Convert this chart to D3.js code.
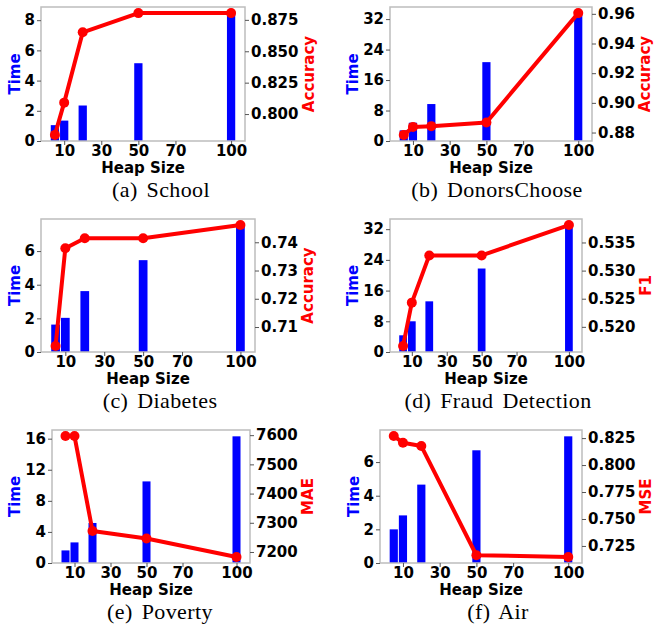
<!DOCTYPE html>
<html>
<head>
<meta charset="utf-8">
<script src="https://cdn.jsdelivr.net/npm/d3@7"></script>
<style>
	body { margin: 0; background: #fff; }
	svg { display: block; }
	.tick text { font-family: 'DejaVu Sans', sans-serif; font-weight: bold; font-size: 15px; fill: #000; }
	.domain { display: none; }
	.tick line { stroke: #555; }
</style>
</head>
<body>
<div id="chart"></div>
<script>
	// data
	var heapSizes = [5, 10, 20, 50, 100];
	var heapTicks = [10, 30, 50, 70, 100];

	var timeSchool = [1.05, 1.35, 2.35, 5.15, 8.45];
	var accSchool = [0.7834, 0.8091, 0.8651, 0.8804, 0.8804];
	var timeDonors = [2.8, 4.8, 9.7, 20.7, 33.5];
	var accDonors = [0.8784, 0.8838, 0.8843, 0.8868, 0.9605];
	var timeDiabetes = [1.63, 2.03, 3.62, 5.46, 7.53];
	var accDiabetes = [0.7033, 0.7379, 0.7414, 0.7414, 0.7461];
	var timeFraud = [4.35, 8.0, 13.2, 21.75, 33.0];
	var f1Fraud = [0.5166, 0.5243, 0.5327, 0.5327, 0.5381];
	var timePoverty = [1.62, 2.65, 5.15, 10.5, 16.3];
	var maePoverty = [7597, 7597, 7272, 7246, 7183];
	var timeAir = [2.0, 2.83, 4.66, 6.7, 7.53];
	var mseAir = [0.8269, 0.8207, 0.8176, 0.7164, 0.7148];

	var captions = ['(a) School', '(b) DonorsChoose', '(c) Diabetes', '(d) Fraud Detection', '(e) Poverty', '(f) Air'];
	var metricNames = ['Accuracy', 'Accuracy', 'Accuracy', 'F1', 'MAE', 'MSE'];
	var timeTicks = [[0, 2, 4, 6, 8], [0, 8, 16, 24, 32], [0, 2, 4, 6], [0, 8, 16, 24, 32], [0, 4, 8, 12, 16], [0, 2, 4, 6]];
	var metricTicks = [
		[0.800, 0.825, 0.850, 0.875],
		[0.88, 0.90, 0.92, 0.94, 0.96],
		[0.71, 0.72, 0.73, 0.74],
		[0.520, 0.525, 0.530, 0.535],
		[7200, 7300, 7400, 7500, 7600],
		[0.725, 0.750, 0.775, 0.800, 0.825]
	];
	var metricFormats = ['.3f', '.2f', '.2f', '.3f', 'd', '.3f'];

	var times = [timeSchool, timeDonors, timeDiabetes, timeFraud, timePoverty, timeAir];
	var metrics = [accSchool, accDonors, accDiabetes, f1Fraud, maePoverty, mseAir];

	// panel frames (plot area) in page pixels
	var frames = [
		{ x1: 41, x2: 245, y1: 7, y2: 141, cx: 161 },
		{ x1: 390, x2: 592, y1: 7, y2: 141, cx: 497 },
		{ x1: 41, x2: 255, y1: 219, y2: 352, cx: 160 },
		{ x1: 390, x2: 582, y1: 219, y2: 352, cx: 498 },
		{ x1: 52, x2: 250, y1: 430, y2: 563, cx: 160 },
		{ x1: 380, x2: 582, y1: 430, y2: 563, cx: 498 }
	];

	var barWidth = 5;
	var blue = '#0000ff';
	var red = '#ff0000';
	var frameColor = '#bdbdbd';
	var labelSize = 15;

	var svg = d3.select('#chart').append('svg')
		.attr('width', 658).attr('height', 625);

	frames.forEach(function (f, i) {
		var g = svg.append('g');
		var time = times[i];
		var metric = metrics[i];

		var x = d3.scaleLinear()
			.domain([heapSizes[0] - barWidth / 2 - 5, heapSizes[4] + barWidth / 2 + 5])
			.range([f.x1, f.x2]);
		var yTime = d3.scaleLinear()
			.domain([0, d3.max(time) * 1.05])
			.range([f.y2, f.y1]);
		var ext = d3.extent(metric);
		var pad = (ext[1] - ext[0]) * 0.05;
		var yMetric = d3.scaleLinear()
			.domain([ext[0] - pad, ext[1] + pad])
			.range([f.y2, f.y1]);

		// bars
		g.selectAll('.bar')
			.data(heapSizes)
			.enter().append('rect')
			.attr('x', (d) => x(d - barWidth / 2) + 0.5)
			.attr('width', (d) => x(d + barWidth / 2) - x(d - barWidth / 2) - 1)
			.attr('y', (d, j) => yTime(time[j]))
			.attr('height', (d, j) => yTime(0) - yTime(time[j]))
			.attr('fill', blue);

		// line + markers
		var line = d3.line()
			.x((d) => x(d))
			.y((d, j) => yMetric(metric[j]));
		g.append('path')
			.datum(heapSizes)
			.attr('d', line)
			.attr('fill', 'none')
			.attr('stroke', red)
			.attr('stroke-width', 4)
			.attr('stroke-linejoin', 'round');
		g.selectAll('.dot')
			.data(heapSizes)
			.enter().append('circle')
			.attr('cx', (d) => x(d))
			.attr('cy', (d, j) => yMetric(metric[j]))
			.attr('r', 5)
			.attr('fill', red);

		// frame
		g.append('rect')
			.attr('x', f.x1).attr('y', f.y1)
			.attr('width', f.x2 - f.x1).attr('height', f.y2 - f.y1)
			.attr('fill', 'none')
			.attr('stroke', frameColor)
			.attr('stroke-width', 1.5);

		// axes
		g.append('g')
			.attr('transform', 'translate(0,' + f.y2 + ')')
			.call(d3.axisBottom(x).tickValues(heapTicks).tickSize(4).tickPadding(0));
		var leftAxis = g.append('g')
			.attr('transform', 'translate(' + f.x1 + ',0)')
			.call(d3.axisLeft(yTime).tickValues(timeTicks[i]).tickSize(4).tickPadding(2));
		var rightAxis = g.append('g')
			.attr('transform', 'translate(' + f.x2 + ',0)')
			.call(d3.axisRight(yMetric).tickValues(metricTicks[i])
				.tickFormat(d3.format(metricFormats[i])).tickSize(4).tickPadding(2));

		// axis titles
		var lb = leftAxis.node().getBBox();
		var rb = rightAxis.node().getBBox();
		var cy = (f.y1 + f.y2) / 2;
		g.append('text')
			.attr('transform', 'translate(' + (f.x1 + lb.x - 10) + ',' + cy + ') rotate(-90)')
			.attr('text-anchor', 'middle')
			.attr('dy', '0.35em')
			.attr('font-family', 'DejaVu Sans')
			.attr('font-weight', 'bold')
			.attr('font-size', labelSize)
			.attr('fill', blue)
			.text('Time');
		g.append('text')
			.attr('transform', 'translate(' + (f.x2 + rb.x + rb.width + 10) + ',' + cy + ') rotate(-90)')
			.attr('text-anchor', 'middle')
			.attr('dy', '0.35em')
			.attr('font-family', 'DejaVu Sans')
			.attr('font-weight', 'bold')
			.attr('font-size', labelSize)
			.attr('fill', red)
			.text(metricNames[i]);
		g.append('text')
			.attr('x', (f.x1 + f.x2) / 2)
			.attr('y', f.y2 + 32)
			.attr('text-anchor', 'middle')
			.attr('font-family', 'DejaVu Sans')
			.attr('font-weight', 'bold')
			.attr('font-size', labelSize)
			.text('Heap Size');

		// caption
		g.append('text')
			.attr('x', f.cx)
			.attr('y', f.y2 + 56)
			.attr('text-anchor', 'middle')
			.attr('font-family', 'Liberation Serif')
			.attr('font-size', 22)
			.attr('letter-spacing', 0.4)
			.attr('word-spacing', 3)
			.text(captions[i]);
	});
</script>
</body>
</html>
